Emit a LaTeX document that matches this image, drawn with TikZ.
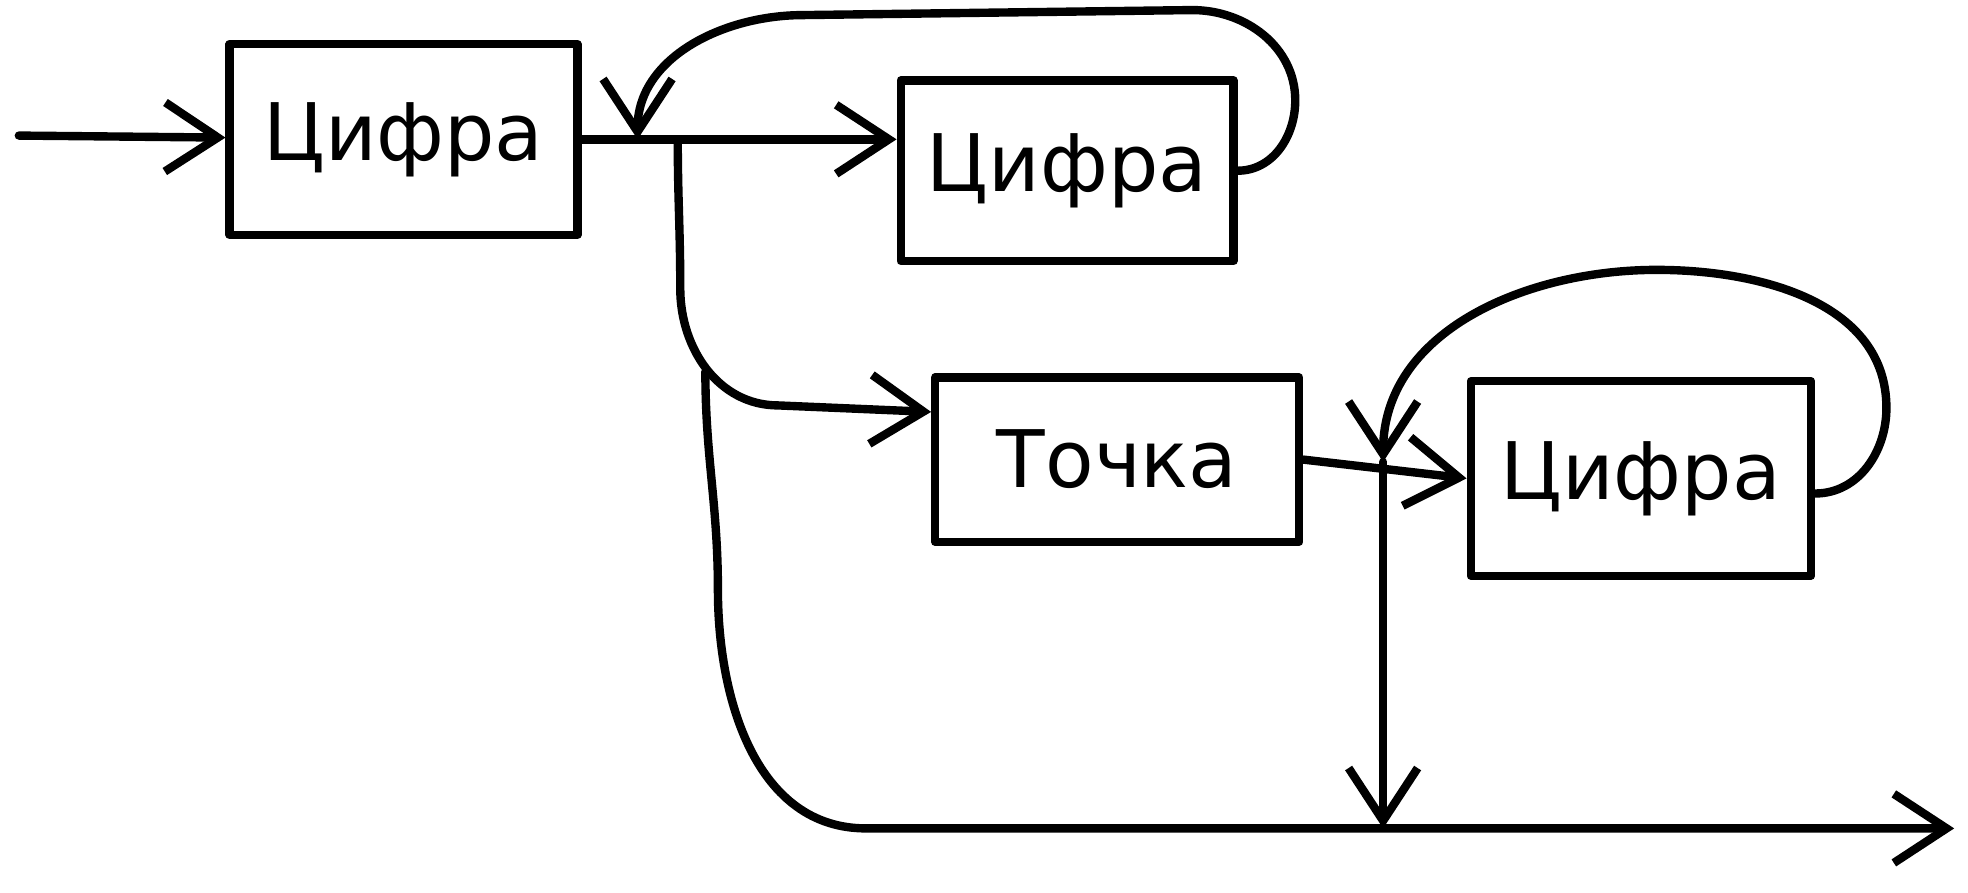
\documentclass[tikz,border=0pt]{standalone}
\usepackage{fontspec}
\setmainfont{DejaVu Sans}
\usepackage{tikz}
\tikzset{
    blk/.style={draw, rectangle, line width=1.9pt, inner sep=0pt, font=\fontsize{18}{21}\selectfont},
    flow/.style={-{Straight Barb[length=4.2mm, width=5.5mm]}, line width=1.9pt} }
\usetikzlibrary{arrows.meta, positioning}

\begin{document}
\begin{tikzpicture}[x=0.1mm, y=-0.1mm, line cap=round, line join=round]
    \useasboundingbox (0,0) rectangle (1568,711);
    \node[blk, minimum width=27.7mm, minimum height=15.2mm] (d1) at (321.5,111) {Цифра};
    \node[blk, minimum width=26.5mm, minimum height=14.4mm, right=25.1mm of d1, yshift=-2.5mm] (d2) {Цифра};
    \node[blk, minimum width=29mm, minimum height=13.1mm, below=8.6mm of d2, xshift=4mm] (pt) {Точка};
    \node[blk, minimum width=27.1mm, minimum height=15.5mm, right=13.0mm of pt, yshift=-1.5mm] (d3) {Цифра};
    \coordinate (in) at (15,108);
    \coordinate (j1) at (508,111);
    \coordinate (j1b) at (540,111);
    \coordinate (j3) at (562,296);
    \coordinate (j2) at (1102,368);
    \coordinate (out) at (1557,660);
    % ----
    \draw[flow] (in) -- (d1);
    \draw[flow] (d1.east) -- (d1.east -| d2.west);

    \draw[flow] (d2.east) to[out=0,in=-90] (1032,80) to[out=90,in=0] (950,8)
        -- (640,12) to[out=180,in=90] (j1);

    \draw[flow] (j1b) to[out=-90,in=90] (542,230) to[out=-90,in=180] (620,323)
        -- ([yshift=3.8mm]pt.west);

    \draw[flow] (j3) to[out=-90,in=90] (572,470) to[out=-90,in=180] (690,660) -- (out);

    \draw[flow] (pt.east) -- (d3.west);

    \draw[flow] ([yshift=-1.2mm]d3.east) to[out=0,in=-90] (1503,325) to[out=90,in=0] (1320,215)
        to[out=180,in=90] (j2);

    \draw[flow] (j2) -- (j2 |- out);
\end{tikzpicture}
\end{document}
